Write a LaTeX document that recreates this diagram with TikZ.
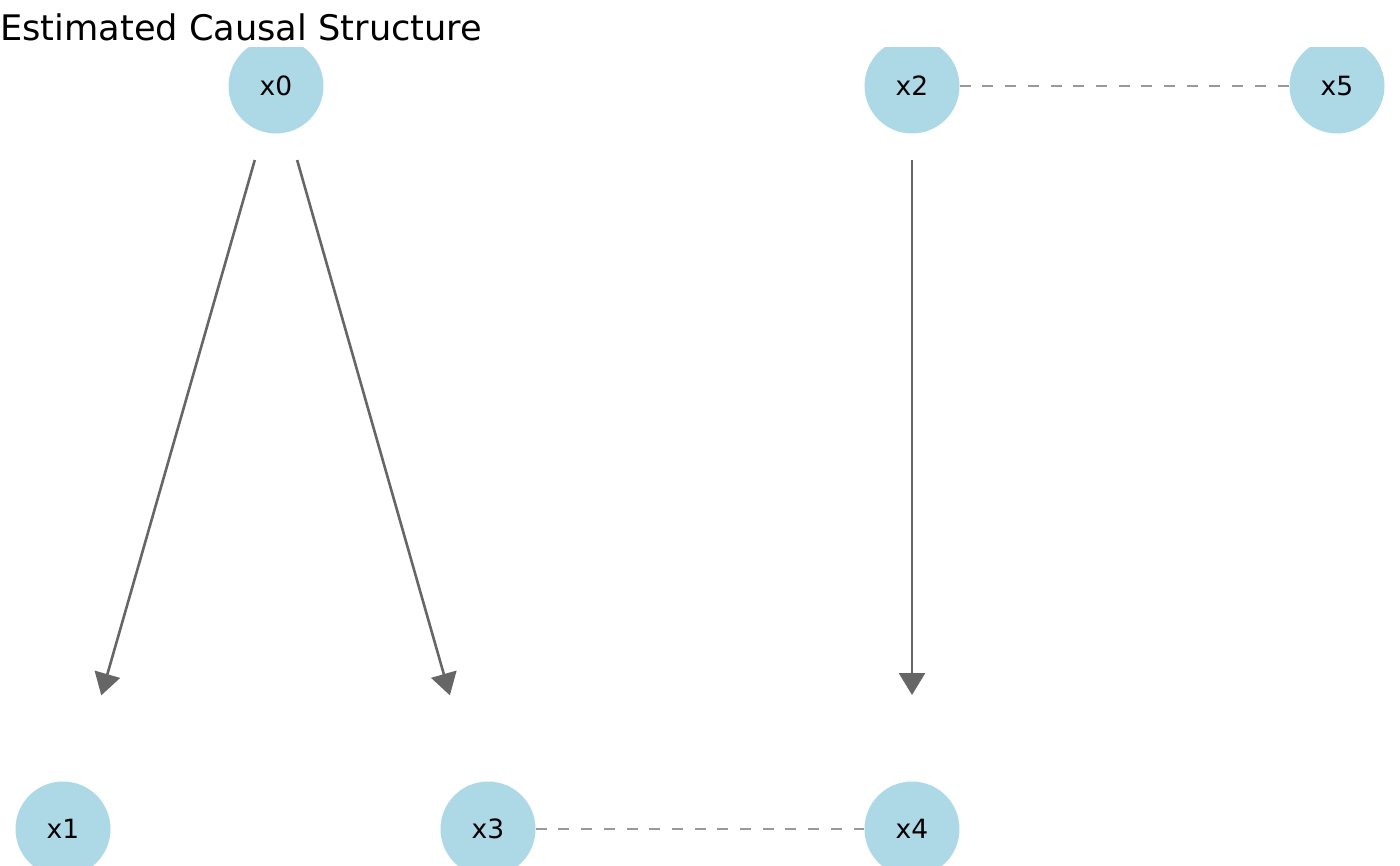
\documentclass[tikz,border=0pt]{standalone}
\usepackage{fontspec}
\setmainfont{DejaVu Sans}
\usetikzlibrary{arrows.meta}
\definecolor{nodefill}{HTML}{ADD8E6}
\definecolor{arrowcol}{HTML}{666666}
\definecolor{dashcol}{HTML}{999999}
\tikzset{
  var/.style={circle, fill=nodefill, minimum size=95pt, inner sep=0pt, font=\fontsize{26.5}{30}\selectfont, text=black},
  causal/.style={draw=arrowcol, line width=2.6pt, -{Triangle[length=22pt,width=26pt]}},
  assoc/.style={draw=dashcol, line width=2.8pt, dash pattern=on 11pt off 11.7pt},
}
\begin{document}
\begin{tikzpicture}[x=1pt,y=-1pt]
\useasboundingbox (0,0) rectangle (1400,866);
\node[anchor=base west, inner sep=0pt, font=\fontsize{35.2}{40}\selectfont] (title) at (0,41) {Estimated Causal Structure};
\begin{scope}
\clip (0,48) rectangle (1400,866);
\node[var] (x0) at (276,86) {x0};
\node[var] (x2) at (912,86) {x2};
\node[var] (x5) at (1337,86) {x5};
\node[var] (x1) at (63,829) {x1};
\node[var] (x3) at (488,829) {x3};
\node[var] (x4) at (912,829) {x4};
\end{scope}
\draw[causal, shorten <=77pt, shorten >=139pt] (x0.center) -- (x1.center);
\draw[causal, shorten <=77pt, shorten >=139pt] (x0.center) -- (x3.center);
\draw[causal, shorten <=74pt, shorten >=134pt] (x2.center) -- (x4.center);
\draw[assoc] (x2) -- (x5);
\draw[assoc] (x3) -- (x4);
\end{tikzpicture}
\end{document}
